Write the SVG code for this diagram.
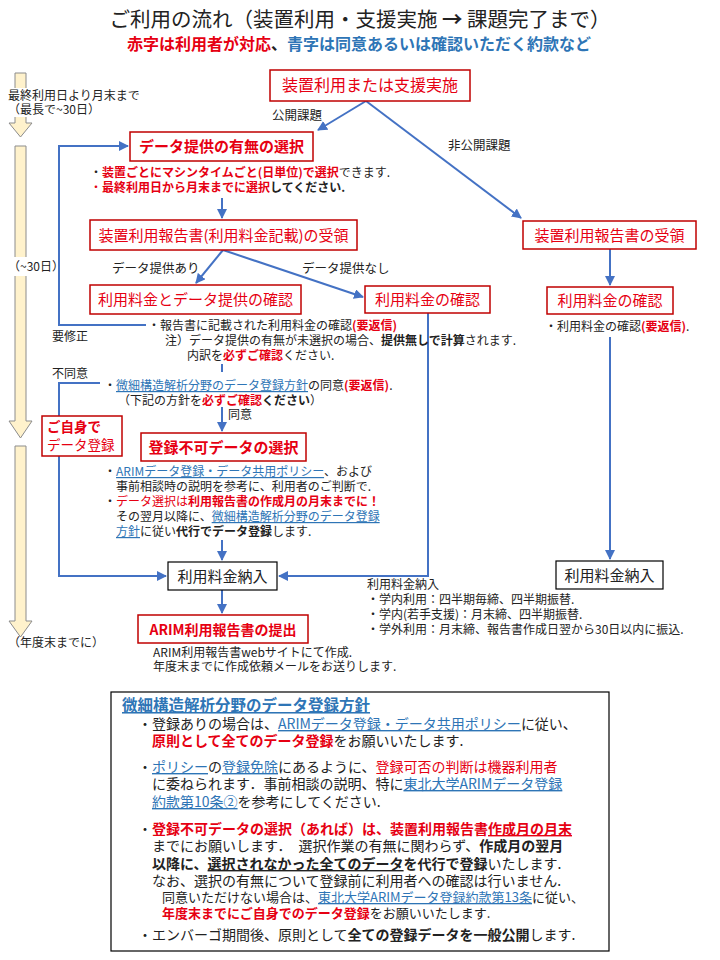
<svg xmlns="http://www.w3.org/2000/svg" width="720" height="960" viewBox="0 0 720 960">
<style>
text{font-family:"Noto Sans CJK JP","Noto Sans",sans-serif;fill:#222;font-size:12px}
.r{fill:#E60012}
.bl{fill:#2E75B6}
.u{text-decoration:underline}
.b{font-weight:bold}
.box{fill:#fff;stroke:#C00000;stroke-width:1.5}
.kbox{fill:#fff;stroke:#000;stroke-width:1.2}
.c{fill:none;stroke:#4472C4;stroke-width:2}
.tl{fill:#FFF2CC;stroke:#8C8C8C;stroke-width:1}
.n{font-size:15px}
.lb{font-size:12.5px}
.m{font-size:14px}
</style>
<defs>
<marker id="a" viewBox="0 0 10 10" refX="9" refY="5" markerWidth="5" markerHeight="5" orient="auto" markerUnits="strokeWidth"><path d="M0,0 L10,5 L0,10 z" fill="#4472C4"/></marker>
</defs>
<rect width="720" height="960" fill="#fff"/>

<g id="title">
<text x="360" y="27" text-anchor="middle" style="font-size:20.5px" fill="#333">ご利用の流れ（装置利用・支援実施 <tspan class="b">→</tspan> 課題完了まで）</text>
<text x="359" y="50" text-anchor="middle" class="b" style="font-size:16px"><tspan class="r">赤字は利用者が対応</tspan>、<tspan class="bl">青字は同意あるいは確認いただく約款など</tspan></text>
</g>

<g id="timeline">
<polygon class="tl" points="15,73 26,73 26,123 32,123 20.5,137 9,123 15,123"/>
<rect x="10" y="88" width="20" height="29" fill="#fff"/>
<text x="8" y="100">最終利用日より月末まで</text>
<text x="8" y="114">（最長で~30日）</text>
<polygon class="tl" points="15,146 26,146 26,421 32,421 20.5,438 9,421 15,421"/>
<rect x="10" y="257" width="20" height="19" fill="#fff"/>
<text x="8" y="271">（~30日）</text>
<polygon class="tl" points="15,446 26,446 26,621 32,621 20.5,637 9,621 15,621"/>
<text x="8" y="647">（年度末までに）</text>
</g>

<g id="connectors">
<path class="c" d="M366,101 L318,130" marker-end="url(#a)"/>
<path class="c" d="M366,101 L521,218" marker-end="url(#a)"/>
<path class="c" d="M222,198 L222,218" marker-end="url(#a)"/>
<path class="c" d="M223,250 L196,283" marker-end="url(#a)"/>
<path class="c" d="M223,250 L363,297" marker-end="url(#a)"/>
<path class="c" d="M610,249 L610,285" marker-end="url(#a)"/>
<path class="c" d="M428,313 L428,576 L279,576" marker-end="url(#a)"/>
<path class="c" d="M610,337 L610,559" marker-end="url(#a)"/>
<path class="c" d="M146,325 L59,325 L59,146 L128,146" marker-end="url(#a)"/>
<path class="c" d="M222,364 L222,372"/>
<path class="c" d="M222,407 L222,431" marker-end="url(#a)"/>
<path class="c" d="M100,383 L59,383 L59,416"/>
<path class="c" d="M59,456 L59,576 L166,576" marker-end="url(#a)"/>
<path class="c" d="M222,540 L222,560" marker-end="url(#a)"/>
<path class="c" d="M222,590 L222,613" marker-end="url(#a)"/>
<text class="lb" x="272" y="120">公開課題</text>
<text class="lb" x="448" y="150">非公開課題</text>
<text class="lb" x="112" y="273">データ提供あり</text>
<text class="lb" x="302" y="273">データ提供なし</text>
<text x="52" y="341">要修正</text>
<text x="52" y="378">不同意</text>
<text x="228" y="419">同意</text>
</g>

<g id="n1"><rect class="box" x="270" y="70" width="200" height="31"/><text x="370" y="91" text-anchor="middle" class="r" style="font-size:16px">装置利用または支援実施</text></g>
<g id="n2"><rect class="box" x="130" y="132" width="183" height="29"/><text x="221.5" y="152" text-anchor="middle" class="r b n">データ提供の有無の選択</text></g>
<g id="n3"><rect class="box" x="90" y="220" width="267" height="30"/><text x="223.5" y="240.5" text-anchor="middle" class="r n">装置利用報告書(利用料金記載)の受領</text></g>
<g id="n4"><rect class="box" x="523" y="221" width="173" height="28"/><text x="609.5" y="240.5" text-anchor="middle" class="r n">装置利用報告書の受領</text></g>
<g id="n5"><rect class="box" x="90" y="285" width="211" height="29"/><text x="195.5" y="305" text-anchor="middle" class="r n">利用料金とデータ提供の確認</text></g>
<g id="n6"><rect class="box" x="365" y="286" width="125" height="27"/><text x="427.5" y="305" text-anchor="middle" class="r n">利用料金の確認</text></g>
<g id="n7"><rect class="box" x="547" y="287" width="126" height="27"/><text x="610" y="306" text-anchor="middle" class="r n">利用料金の確認</text></g>
<g id="n8"><rect class="box" x="42" y="416" width="80" height="40"/><text x="47" y="432" class="r b" style="font-size:13.5px">ご自身で</text><text x="47" y="450" class="r" style="font-size:13.5px">データ登録</text></g>
<g id="n9"><rect class="box" x="141" y="433" width="165" height="28"/><text x="223.5" y="452.5" text-anchor="middle" class="r b n">登録不可データの選択</text></g>
<g id="n10"><rect class="kbox" x="168" y="562" width="109" height="28"/><text x="222.5" y="581.5" text-anchor="middle" class="n">利用料金納入</text></g>
<g id="n11"><rect class="kbox" x="556" y="561" width="107" height="28"/><text x="609.5" y="580.5" text-anchor="middle" class="n">利用料金納入</text></g>
<g id="n12"><rect class="box" x="138" y="615" width="170" height="28"/><text x="223" y="634.5" text-anchor="middle" class="r b" style="font-size:14px">ARIM利用報告書の提出</text></g>

<g id="notes">
<text x="90" y="177">・<tspan class="r b">装置ごとにマシンタイムごと(日単位)で選択</tspan>できます.</text>
<text x="90" y="192"><tspan class="r">・</tspan><tspan class="r b">最終利用日から月末までに選択</tspan><tspan class="b">してください.</tspan></text>
<text x="148" y="330">・報告書に記載された利用料金の確認<tspan class="r b">(要返信)</tspan></text>
<text x="165" y="345">注）データ提供の有無が未選択の場合、<tspan class="b">提供無しで計算</tspan>されます.</text>
<text x="187" y="360">内訳を<tspan class="r b">必ずご確認</tspan>ください.</text>
<text x="104" y="390">・<tspan class="bl u">微細構造解析分野のデータ登録方針</tspan>の同意<tspan class="r b">(要返信)</tspan>.</text>
<text x="118" y="405">（下記の方針を<tspan class="r b">必ずご確認</tspan><tspan class="b">ください</tspan>）</text>
<text x="545" y="331">・利用料金の確認<tspan class="r b">(要返信)</tspan>.</text>
<text x="104" y="476">・<tspan class="bl u">ARIMデータ登録・データ共用ポリシー</tspan>、および</text>
<text x="116" y="491">事前相談時の説明を参考に、利用者のご判断で.</text>
<text x="104" y="506">・<tspan class="r">データ選択は</tspan><tspan class="r b">利用報告書の作成月の月末までに！</tspan></text>
<text x="116" y="521">その翌月以降に、<tspan class="bl u">微細構造解析分野のデータ登録</tspan></text>
<text x="116" y="536"><tspan class="bl u">方針</tspan>に従い<tspan class="b">代行でデータ登録</tspan>します.</text>
<text x="367" y="589">利用料金納入</text>
<text x="367" y="604">・学内利用：四半期毎締、四半期振替.</text>
<text x="367" y="619">・学内(若手支援)：月末締、四半期振替.</text>
<text x="367" y="634">・学外利用：月末締、報告書作成日翌から30日以内に振込.</text>
<text x="153" y="657">ARIM利用報告書webサイトにて作成.</text>
<text x="153" y="671">年度末までに作成依頼メールをお送りします.</text>
</g>

<g id="policy">
<rect x="111" y="692" width="498" height="259" fill="#fff" stroke="#000" stroke-width="1.2"/>
<text x="122" y="711" class="bl b u" style="font-size:15.5px">微細構造解析分野のデータ登録方針</text>
<text class="m" x="138" y="729">・登録ありの場合は、<tspan class="bl u">ARIMデータ登録・データ共用ポリシー</tspan>に従い、</text>
<text class="m" x="152" y="746"><tspan class="r b">原則として全てのデータ登録</tspan>をお願いいたします.</text>
<text class="m" x="138" y="772">・<tspan class="bl u">ポリシー</tspan>の<tspan class="bl u">登録免除</tspan>にあるように、<tspan class="r">登録可否の判断は機器利用者</tspan></text>
<text class="m" x="152" y="789">に委ねられます．事前相談の説明、特に<tspan class="bl u">東北大学ARIMデータ登録</tspan></text>
<text class="m" x="152" y="807"><tspan class="bl u">約款第10条②</tspan>を参考にしてください.</text>
<text class="m" x="138" y="834">・<tspan class="r b">登録不可データの選択（あれば）は、装置利用報告書</tspan><tspan class="r b u">作成月の月末</tspan></text>
<text class="m" x="152" y="851">までにお願いします．　選択作業の有無に関わらず、<tspan class="b">作成月の翌月</tspan></text>
<text class="m" x="152" y="869"><tspan class="b">以降に、</tspan><tspan class="b u">選択されなかった全てのデータ</tspan><tspan class="b">を代行で登録</tspan>いたします.</text>
<text class="m" x="152" y="886">なお、選択の有無について登録前に利用者への確認は行いません.</text>
<text x="162" y="902" style="font-size:13px">同意いただけない場合は、<tspan class="bl u">東北大学ARIMデータ登録約款第13条</tspan>に従い、</text>
<text x="162" y="918" style="font-size:13px"><tspan class="r b">年度末までにご自身でのデータ登録</tspan>をお願いいたします.</text>
<text class="m" x="138" y="940">・エンバーゴ期間後、原則として<tspan class="b">全ての登録データを一般公開</tspan>します.</text>
</g>
</svg>
